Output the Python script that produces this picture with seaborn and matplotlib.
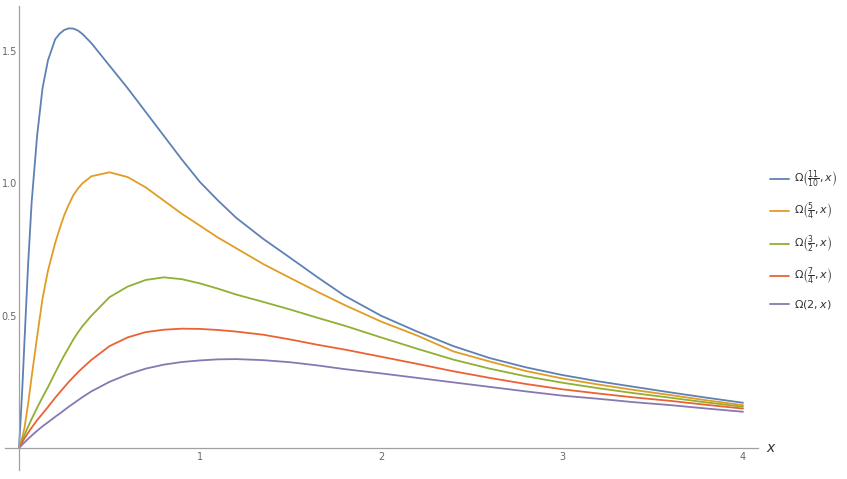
import numpy as np
import pandas as pd
import matplotlib
matplotlib.use("Agg")
import matplotlib.pyplot as plt
from matplotlib.ticker import MultipleLocator
import seaborn as sns

# values
x = [0, 0.01, 0.02, 0.03, 0.05, 0.07, 0.1, 0.13, 0.16, 0.2, 0.225, 0.25, 0.275, 0.3, 0.325, 0.35, 0.4,
     0.5, 0.6, 0.7, 0.8, 0.9, 1.0, 1.1, 1.2, 1.35, 1.5, 1.65, 1.8, 2.0, 2.2, 2.4,
     2.6, 2.8, 3.0, 3.2, 3.4, 3.6, 3.8, 4.0]

omega_11_10 = [0, 0.12, 0.25, 0.40, 0.69, 0.93, 1.18, 1.36, 1.465, 1.545, 1.566, 1.58, 1.586, 1.585, 1.578, 1.565, 1.53,
               1.445, 1.36, 1.27, 1.18, 1.09, 1.005, 0.935, 0.87, 0.79, 0.718, 0.645, 0.575, 0.50, 0.44, 0.385,
               0.34, 0.305, 0.276, 0.252, 0.231, 0.21, 0.19, 0.171]
omega_5_4 = [0, 0.02, 0.045, 0.075, 0.165, 0.27, 0.42, 0.565, 0.67, 0.775, 0.83, 0.88, 0.92, 0.955, 0.98, 1.0, 1.027,
             1.042, 1.024, 0.985, 0.935, 0.885, 0.84, 0.795, 0.755, 0.695, 0.642, 0.59, 0.54, 0.478, 0.425, 0.365,
             0.327, 0.291, 0.263, 0.24, 0.219, 0.2, 0.18, 0.162]
omega_3_2 = [0, 0.017, 0.033, 0.049, 0.08, 0.11, 0.152, 0.192, 0.23, 0.285, 0.318, 0.35, 0.38, 0.41, 0.436, 0.46, 0.5,
             0.57, 0.61, 0.635, 0.645, 0.638, 0.622, 0.602, 0.58, 0.552, 0.523, 0.492, 0.462, 0.418, 0.375, 0.334,
             0.300, 0.271, 0.247, 0.226, 0.207, 0.19, 0.172, 0.156]
omega_7_4 = [0, 0.012, 0.024, 0.036, 0.057, 0.077, 0.105, 0.13, 0.155, 0.19, 0.21, 0.23, 0.25, 0.268, 0.286, 0.302, 0.333,
             0.385, 0.418, 0.438, 0.447, 0.451, 0.45, 0.446, 0.44, 0.428, 0.41, 0.39, 0.372, 0.345, 0.318, 0.29,
             0.265, 0.242, 0.222, 0.206, 0.191, 0.178, 0.163, 0.149]
omega_2 = [0, 0.007, 0.014, 0.021, 0.034, 0.047, 0.065, 0.082, 0.097, 0.118, 0.13, 0.143, 0.156, 0.168, 0.18, 0.192, 0.214,
           0.25, 0.278, 0.3, 0.315, 0.325, 0.331, 0.335, 0.336, 0.332, 0.324, 0.312, 0.298, 0.282, 0.265, 0.248,
           0.231, 0.214, 0.198, 0.186, 0.173, 0.162, 0.149, 0.137]

labels = [r'$\Omega\left(\frac{11}{10}, x\right)$',
          r'$\Omega\left(\frac{5}{4}, x\right)$',
          r'$\Omega\left(\frac{3}{2}, x\right)$',
          r'$\Omega\left(\frac{7}{4}, x\right)$',
          r'$\Omega(2, x)$']
colors = ['#5E81B5', '#E19C24', '#8FB032', '#EB6235', '#8778B3']

df = pd.DataFrame({'x': x, labels[0]: omega_11_10, labels[1]: omega_5_4,
                   labels[2]: omega_3_2, labels[3]: omega_7_4, labels[4]: omega_2})
df = df.melt(id_vars='x', var_name='curve', value_name='y')

sns.set_style('white')
plt.rcParams['font.family'] = ['DejaVu Sans']

fig = plt.figure(figsize=(8.47, 4.79), dpi=100)
ax = fig.add_axes([5 / 847, 1 - 470 / 479, (758 - 5) / 847, (470 - 6) / 479])

sns.lineplot(data=df, x='x', y='y', hue='curve', hue_order=labels,
             palette=colors, estimator=None, linewidth=1.3, ax=ax)

ax.set_xlim(-14 / 181, 4 + 15 / 181)
ax.set_ylim(-22 / 264.6, 442 / 264.6)

# axes through the origin, Mathematica style
for side in ['top', 'right']:
    ax.spines[side].set_visible(False)
ax.spines['left'].set_position(('data', 0))
ax.spines['bottom'].set_position(('data', 0))
for side in ['left', 'bottom']:
    ax.spines[side].set_color('#a0a0a0')
    ax.spines[side].set_linewidth(0.9)

ax.xaxis.set_minor_locator(MultipleLocator(0.2))
ax.yaxis.set_minor_locator(MultipleLocator(0.1))
ax.set_xticks([1, 2, 3, 4])
ax.set_xticklabels(['1', '2', '3', '4'])
ax.set_yticks([0.5, 1.0, 1.5])
ax.set_yticklabels(['0.5', '1.0', '1.5'])
ax.tick_params(which='major', direction='in', length=4, width=0.8, color='#a0a0a0',
               labelsize=7, labelcolor='#666666')
ax.tick_params(axis='x', which='major', pad=3)
ax.tick_params(axis='y', which='major', pad=1.5)
ax.tick_params(which='minor', direction='in', length=2.5, width=0.6, color='#a0a0a0')
ax.set_xlabel('')
ax.set_ylabel('')

ax.annotate('$x$', xy=(1, 0), xycoords=('axes fraction', 'data'), xytext=(6, 0),
            textcoords='offset points', ha='left', va='center', fontsize=10, color='#333333',
            annotation_clip=False)

handles, hl = ax.get_legend_handles_labels()
ax.legend(handles, hl, loc='upper left', bbox_to_anchor=(770 / 847, 1 - 169 / 479),
          bbox_transform=fig.transFigure, frameon=False, fontsize=8, handlelength=1.7,
          handletextpad=0.5, labelspacing=1.0, borderaxespad=0, borderpad=0,
          labelcolor='#333333')

fig.savefig('out.png', dpi=100)
